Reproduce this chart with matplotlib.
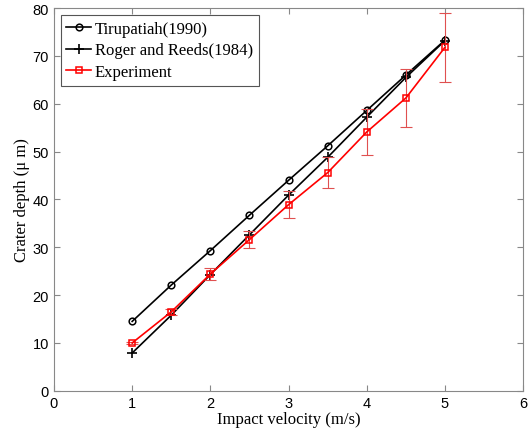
import matplotlib
matplotlib.use('Agg')
import matplotlib.pyplot as plt

velocity = [1, 1.5, 2, 2.5, 3, 3.5, 4, 4.5, 5]
tirupatiah = [14.5, 22.1, 29.3, 36.7, 44.0, 51.2, 58.6, 66.0, 73.3]
roger = [7.9, 15.8, 24.3, 32.6, 40.9, 48.8, 57.2, 65.5, 73.2]
experiment = [10.0, 16.5, 24.4, 31.6, 38.9, 45.6, 54.1, 61.2, 71.8]
exp_err = [0.3, 0.6, 1.2, 1.7, 2.8, 3.3, 4.8, 6.1, 7.2]

serif = ['Liberation Serif', 'DejaVu Serif']
sans = ['Liberation Sans', 'DejaVu Sans']

fig = plt.figure(figsize=(5.29, 4.31), dpi=100)
ax = fig.add_axes([0.102, 0.091, 0.887, 0.888])

ax.plot(velocity, tirupatiah, '-o', color='black', lw=1.2, ms=4.8,
        mfc='none', mew=1.1, label='Tirupatiah(1990)')
ax.plot(velocity, roger, '-+', color='black', lw=1.2, ms=6.5,
        mew=1.2, label='Roger and Reeds(1984)')
ax.errorbar(velocity, experiment, yerr=exp_err, fmt='none', ecolor='#e05050',
            elinewidth=0.8, capsize=4, capthick=0.8)
ax.plot(velocity, experiment, '-s', color='red', lw=1.2, ms=4.8,
        mfc='none', mew=1.1, label='Experiment')

ax.set_xlim(0, 6)
ax.set_ylim(0, 80)
ax.set_xticks(range(0, 7))
ax.set_yticks(range(0, 90, 10))
ax.tick_params(direction='in', top=True, right=True, length=4,
               color='#888888', labelsize=10.5)
for lab in ax.get_xticklabels() + ax.get_yticklabels():
    lab.set_family(sans)
for sp in ax.spines.values():
    sp.set_color('#888888')

ax.set_xlabel('Impact velocity (m/s)', family=serif, fontsize=12, labelpad=1)
ax.set_ylabel('Crater depth (\u03bc m)', family=serif, fontsize=12, labelpad=2)

leg = ax.legend(loc='upper left', prop={'family': serif, 'size': 12},
                fancybox=False, edgecolor='#555555', handlelength=1.5,
                handletextpad=0.2, borderpad=0.35, labelspacing=0.35,
                borderaxespad=0.4, framealpha=1)
leg.get_frame().set_linewidth(0.8)

fig.savefig('out.png', dpi=100)
